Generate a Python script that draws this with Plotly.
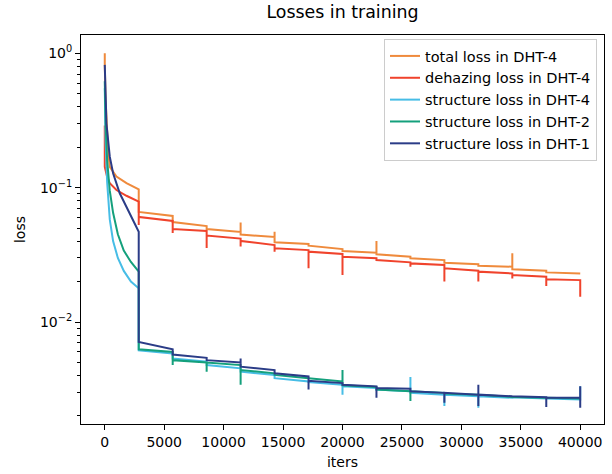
import plotly.graph_objects as go

# ---- data ----
EPOCH_BOUNDS = [0, 2857, 5714, 8571, 11429, 14286, 17143, 20000, 22857,
                25714, 28571, 31429, 34286, 37143, 40000]

SERIES_NAMES = ["total loss in DHT-4", "dehazing loss in DHT-4", "structure loss in DHT-4",
                "structure loss in DHT-2", "structure loss in DHT-1"]
SERIES_COLORS = ["#ef8a3c", "#f0432c", "#47bde6", "#14a07c", "#2b3c87"]

# total loss DHT-4
TOTAL4_EARLY_ITERS = [0, 0, 70, 140, 280, 420, 984, 1825, 2857]
TOTAL4_EARLY_LOSS = [1.0, 0.82, 0.45, 0.30, 0.19, 0.143, 0.121, 0.108, 0.097]
TOTAL4_START = [0.0659, 0.0555, 0.0492, 0.0448, 0.0392, 0.0370, 0.0338, 0.0319, 0.0298, 0.0276, 0.0262, 0.0247, 0.0234]
TOTAL4_END = [0.0615, 0.0518, 0.0468, 0.0429, 0.0381, 0.0349, 0.0328, 0.0306, 0.0289, 0.0269, 0.0258, 0.0241, 0.0230]
TOTAL4_SPIKE_HI = [None, None, None, 0.0550, 0.0470, None, None, 0.0401, None, None, None, 0.0325, None, None]
TOTAL4_SPIKE_LO = [None] * 14

# dehazing loss DHT-4
DEHAZE4_EARLY_ITERS = [0, 0, 200, 420, 984, 1825, 2857]
DEHAZE4_EARLY_LOSS = [0.29, 0.143, 0.12, 0.108, 0.096, 0.087, 0.0786]
DEHAZE4_START = [0.0605, 0.0492, 0.0440, 0.0401, 0.0354, 0.0334, 0.0306, 0.0289, 0.0273, 0.0251, 0.0237, 0.0224, 0.0208]
DEHAZE4_END = [0.0565, 0.0476, 0.0418, 0.0374, 0.0343, 0.0321, 0.0298, 0.0278, 0.0266, 0.0241, 0.0230, 0.0217, 0.0205]
DEHAZE4_SPIKE_HI = [None] * 14
DEHAZE4_SPIKE_LO = [0.0527, 0.0460, 0.0355, 0.0365, 0.0334, 0.0251, 0.0224, None, 0.0258, 0.0200, 0.0200, 0.0211, 0.0185, 0.0154]

# structure loss DHT-4
STRUCT4_EARLY_ITERS = [0, 70, 200, 420, 700, 1100, 1600, 2200, 2857]
STRUCT4_EARLY_LOSS = [0.55, 0.22, 0.11, 0.058, 0.040, 0.030, 0.024, 0.020, 0.0178]
STRUCT4_START = [0.00615, 0.00535, 0.00478, 0.00427, 0.00382, 0.00357, 0.00332, 0.00314, 0.00297, 0.00288, 0.00280, 0.00276, 0.00270]
STRUCT4_END = [0.00582, 0.00506, 0.00452, 0.00404, 0.00361, 0.00341, 0.00323, 0.00305, 0.00288, 0.00280, 0.00273, 0.00270, 0.00265]
STRUCT4_SPIKE_HI = [None, None, None, None, None, None, None, None, 0.0039, None, None, None, None, 0.00332]
STRUCT4_SPIKE_LO = [None, None, None, None, None, None, 0.00288, None, None, 0.00237, 0.00230, None, None, None]

# structure loss DHT-2
STRUCT2_EARLY_ITERS = [0, 70, 200, 420, 700, 1100, 1600, 2200, 2857]
STRUCT2_EARLY_LOSS = [0.62, 0.30, 0.16, 0.095, 0.065, 0.045, 0.034, 0.028, 0.0237]
STRUCT2_START = [0.00626, 0.00520, 0.00500, 0.00439, 0.00404, 0.00382, 0.00338, 0.00314, 0.00305, 0.00293, 0.00288, 0.00277, 0.00273]
STRUCT2_END = [0.00598, 0.00500, 0.00478, 0.00415, 0.00382, 0.00361, 0.00328, 0.00305, 0.00297, 0.00288, 0.00280, 0.00273, 0.00270]
STRUCT2_SPIKE_HI = [None, None, None, None, None, None, 0.00439, None, None, None, None, None, None, None]
STRUCT2_SPIKE_LO = [None, 0.00478, 0.00427, 0.00341, None, None, None, None, 0.00258, None, None, None, None, None]

# structure loss DHT-1
STRUCT1_EARLY_ITERS = [0, 70, 140, 420, 700, 1260, 1825, 2380, 2857]
STRUCT1_EARLY_LOSS = [0.82, 0.45, 0.30, 0.17, 0.128, 0.0908, 0.0722, 0.0574, 0.047]
STRUCT1_START = [0.0071, 0.00572, 0.00520, 0.00465, 0.00415, 0.00365, 0.00341, 0.00323, 0.00305, 0.00297, 0.00288, 0.00280, 0.00273]
STRUCT1_END = [0.00626, 0.00541, 0.00500, 0.00439, 0.00393, 0.00351, 0.00332, 0.00319, 0.00297, 0.00288, 0.00280, 0.00276, 0.00273]
STRUCT1_SPIKE_HI = [None, None, None, 0.00535, None, None, None, None, None, None, 0.00341, None, None, 0.00332]
STRUCT1_SPIKE_LO = [None, None, None, 0.00465, None, 0.00314, None, 0.00273, None, 0.00251, 0.00237, None, 0.00233, 0.00230]

SERIES = [
    (TOTAL4_EARLY_ITERS, TOTAL4_EARLY_LOSS, TOTAL4_START, TOTAL4_END, TOTAL4_SPIKE_HI, TOTAL4_SPIKE_LO),
    (DEHAZE4_EARLY_ITERS, DEHAZE4_EARLY_LOSS, DEHAZE4_START, DEHAZE4_END, DEHAZE4_SPIKE_HI, DEHAZE4_SPIKE_LO),
    (STRUCT4_EARLY_ITERS, STRUCT4_EARLY_LOSS, STRUCT4_START, STRUCT4_END, STRUCT4_SPIKE_HI, STRUCT4_SPIKE_LO),
    (STRUCT2_EARLY_ITERS, STRUCT2_EARLY_LOSS, STRUCT2_START, STRUCT2_END, STRUCT2_SPIKE_HI, STRUCT2_SPIKE_LO),
    (STRUCT1_EARLY_ITERS, STRUCT1_EARLY_LOSS, STRUCT1_START, STRUCT1_END, STRUCT1_SPIKE_HI, STRUCT1_SPIKE_LO),
]

Y_TICK_VALUES = [1e-2, 1e-1, 1]
Y_TICK_LABELS = ["10<sup>−2</sup>", "10<sup>−1</sup>", "10<sup>0</sup>"]
X_TICK_VALUES = [0, 5000, 10000, 15000, 20000, 25000, 30000, 35000, 40000]
X_TICK_LABELS = ["0", "5000", "10000", "15000", "20000", "25000", "30000", "35000", "40000"]


def build(early_x, early_y, start, end, hi, lo):
    xs = list(early_x)
    ys = list(early_y)
    n = len(EPOCH_BOUNDS) - 1
    for k in range(1, n + 1):
        b = EPOCH_BOUNDS[k]
        if hi[k - 1] is not None:
            xs.append(b); ys.append(hi[k - 1])
        if lo[k - 1] is not None:
            xs.append(b); ys.append(lo[k - 1])
        if k < n:
            xs.append(b); ys.append(start[k - 1])
            xs.append(EPOCH_BOUNDS[k + 1]); ys.append(end[k - 1])
    return xs, ys


FONT = "DejaVu Sans"
fig = go.Figure()
for name, color, s in zip(SERIES_NAMES, SERIES_COLORS, SERIES):
    xs, ys = build(*s)
    fig.add_trace(go.Scatter(x=xs, y=ys, mode="lines", name=name,
                             line=dict(color=color, width=2)))

minor_vals = [m * 10 ** e for e in (-3, -2, -1, 0) for m in range(2, 10)]

W, H = 612, 474
fig.update_layout(
    width=W, height=H,
    margin=dict(l=81, r=8, t=35, b=50),
    paper_bgcolor="white", plot_bgcolor="white",
    hovermode=False,
    font=dict(family=FONT, size=14, color="black"),
    title=dict(text="Losses in training", x=0.5, xref="paper", xanchor="center",
               y=1 - 12 / H, yref="container", yanchor="middle",
               font=dict(family=FONT, size=17.4, color="black")),
    showlegend=True,
    legend=dict(x=(597 - 81) / 523, xanchor="right", y=1 - 4 / 389, yanchor="top",
                bgcolor="white", bordercolor="#cccccc", borderwidth=1,
                font=dict(family=FONT, size=14.5, color="black")),
)
fig.update_xaxes(
    range=[-2000, 42000], tickvals=X_TICK_VALUES, ticktext=X_TICK_LABELS,
    ticks="outside", ticklen=5, automargin=False,
    tickcolor="black", showline=True, linecolor="black", linewidth=1, mirror=True,
    showgrid=False, zeroline=False,
    title=dict(text="iters", standoff=8, font=dict(family=FONT, size=14)),
)
fig.update_yaxes(
    type="log", range=[-2.759, 0.136], tickvals=Y_TICK_VALUES, ticktext=Y_TICK_LABELS,
    ticks="outside", ticklen=5, tickcolor="black", showline=True, linecolor="black",
    linewidth=1, mirror=True, showgrid=False, zeroline=False, automargin=False,
    minor=dict(tickvals=minor_vals, ticks="outside", ticklen=3, tickcolor="black", showgrid=False),
    title=dict(text="loss", standoff=11, font=dict(family=FONT, size=14)),
)

# remove the default 8px page margin so the figure sits at the window origin
fig.write_html("out.html", config={"displayModeBar": False},
               post_script="document.body.style.margin='0';")
